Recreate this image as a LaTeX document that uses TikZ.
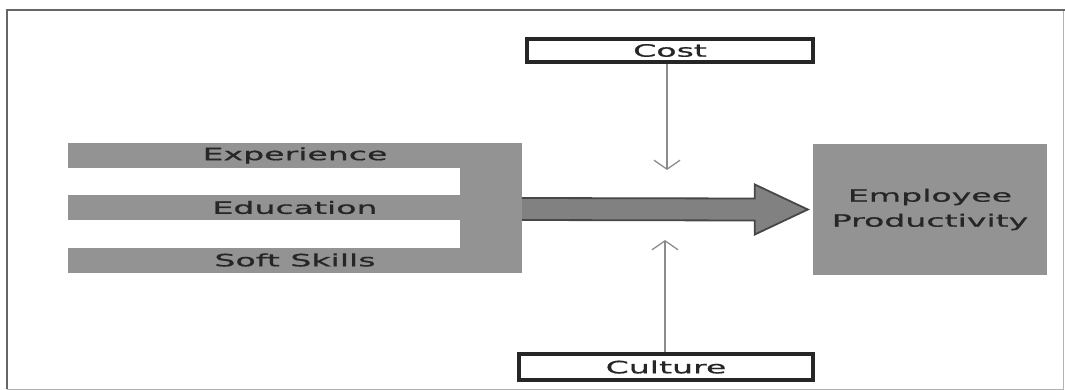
\documentclass[tikz,border=0pt]{standalone}
\usepackage{fontspec}
\usetikzlibrary{arrows.meta,calc}
\newfontfamily\labelfont[FakeStretch=1.95,FakeBold=0.8]{DejaVu Sans}
\definecolor{boxgray}{HTML}{939393}
\definecolor{arrowgray}{HTML}{818181}
\definecolor{arrowedge}{HTML}{474747}
\definecolor{inkgray}{HTML}{262626}
\definecolor{thingray}{HTML}{8C8C8C}
\tikzset{
  lbl/.style={font=\labelfont\fontsize{17}{25}\selectfont, text=inkgray},
  factor/.style={lbl, fill=boxgray, draw=none, inner sep=0pt,
    minimum width=454pt, minimum height=25pt},
  framebox/.style={lbl, draw=inkgray, fill=white, line width=4pt, inner sep=0pt},
  outcome/.style={lbl, fill=boxgray, draw=none, inner sep=0pt, align=center,
    minimum width=234pt, minimum height=131pt},
  influence/.style={draw=thingray, line width=1.3pt,
    -{Straight Barb[length=9pt,width=26pt,line width=1.3pt]}},
  bigarrow/.style={fill=arrowgray, draw=arrowedge, line width=1.8pt, line join=miter}
}
\begin{document}
\begin{tikzpicture}[x=1pt,y=-1pt]
\useasboundingbox (0,0) rectangle (1065,390);
% outer frame
\draw[gray!60, line width=1pt] (1063,10) -- (1063,389) -- (7,389);
\draw[gray!80!black, line width=2pt] (7,389) -- (7,10) -- (1065,10);

% three factor bars joined by a common trunk
\node[factor] (exp)  at (295,155.5) {Experience};
\node[factor] (edu)  at (295,207.5) {Education};
\node[factor] (soft) at (295,260)   {Soft Skills};
\node[fill=boxgray, inner sep=0pt, minimum width=62pt, minimum height=130pt]
  (trunk) at (491,208) {};

% outcome box
\node[outcome] (prod) at (930,209.5) {Employee\\Productivity};

% moderators
\node[framebox, minimum width=286pt, minimum height=23pt] (cost) at (670,50.5) {Cost};
\node[framebox, minimum width=294pt, minimum height=26pt] (culture) at (666,367) {Culture};

% broad arrow from the trunk to the outcome
\coordinate (s) at ($(trunk.east)+(0,1)$);
\coordinate (t) at ($(prod.west)+(-5,0)$);
\draw[bigarrow]
  ($(s)+(0,-11)$) -- ($(t)+(-53,-11)$) -- ($(t)+(-53,-25)$) -- (t)
  -- ($(t)+(-53,25)$) -- ($(t)+(-53,11)$) -- ($(s)+(0,11)$);

% moderator arrows
\coordinate (costend) at (667,170);
\coordinate (cultend) at (665,240);
\draw[influence] (cost.south -| costend) -- (costend);
\draw[influence] (culture.north -| cultend) -- (cultend);
\end{tikzpicture}
\end{document}
